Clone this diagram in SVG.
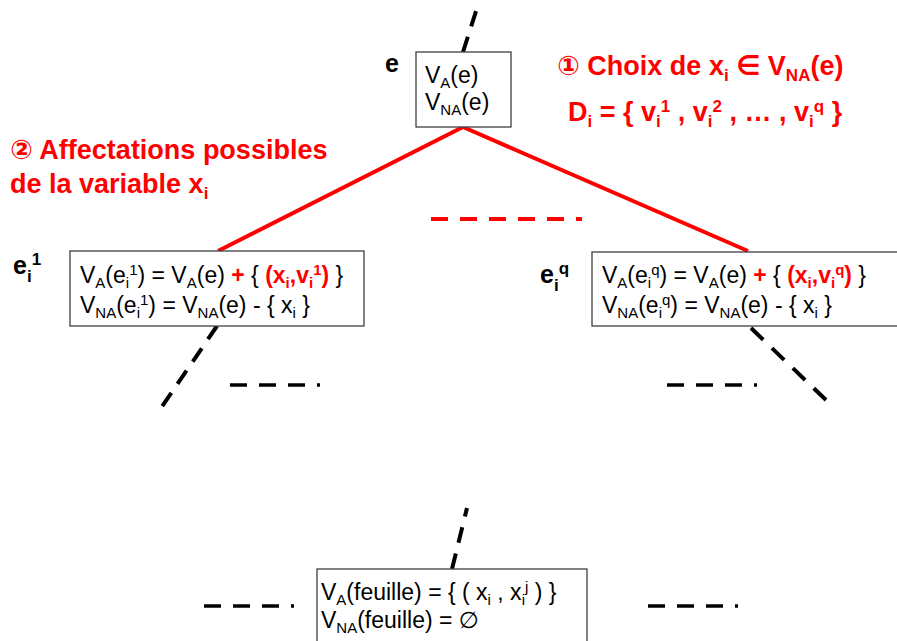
<svg xmlns="http://www.w3.org/2000/svg" width="897" height="641" viewBox="0 0 897 641">
<style>
.box{fill:#fff;stroke:#3f3f3f;stroke-width:1.3}
.t{font-family:"Liberation Sans","DejaVu Sans",sans-serif;font-size:23px;fill:#000}
.lbl{font-family:"Liberation Sans","DejaVu Sans",sans-serif;font-size:25px;font-weight:bold;fill:#000}
.red{font-family:"Liberation Sans","DejaVu Sans",sans-serif;font-size:27px;font-weight:bold;fill:#ff0000}
.rb{fill:#ff0000;font-weight:bold}
.dash{fill:none;stroke:#000;stroke-width:3.5;stroke-dasharray:17 12}
.diag{fill:none;stroke:#000;stroke-width:4;stroke-dasharray:16 11}
.diag2{fill:none;stroke:#000;stroke-width:4;stroke-dasharray:17 12}
.redline{fill:none;stroke:#ff0000;stroke-width:4}
.reddash{fill:none;stroke:#ff0000;stroke-width:4;stroke-dasharray:17 12}
</style>
<g id="connectors">
<path class="diag" d="M463,52 L477,8"/>
<path class="redline" d="M463,127 L218,251"/>
<path class="redline" d="M463,127 L748,251"/>
<path class="reddash" d="M431,219 L582,219"/>
<path class="diag" d="M217,326 L161,408"/>
<path class="dash" d="M230,385 L320,385"/>
<path class="diag2" d="M751,328 L826,400"/>
<path class="dash" d="M667,385 L757,385"/>
<path class="diag" d="M452,569 L467,508"/>
<path class="dash" d="M204,606 L294,606"/>
<path class="dash" d="M648,606 L738,606"/>
</g>
<g id="node-e">
<rect class="box" x="416" y="52" width="95" height="75"/>
<text class="lbl" x="385" y="72">e</text>
<text class="t" x="425" y="83">V<tspan font-size="15" dy="5">A</tspan><tspan dy="-5">(e)</tspan></text>
<text class="t" x="425" y="110">V<tspan font-size="15" dy="5">NA</tspan><tspan dy="-5">(e)</tspan></text>
</g>
<g id="title-1">
<text class="red" x="557" y="75">① Choix de x<tspan font-size="17" dy="6">i</tspan><tspan dy="-6"> ∈ V</tspan><tspan font-size="17" dy="6">NA</tspan><tspan dy="-6">(e)</tspan></text>
<text class="red" x="568" y="121">D<tspan font-size="17" dy="6">i</tspan><tspan dy="-6"> = { v</tspan><tspan font-size="17" dy="6">i</tspan><tspan font-size="17" dy="-15">1</tspan><tspan dy="9"> , v</tspan><tspan font-size="17" dy="6">i</tspan><tspan font-size="17" dy="-15">2</tspan><tspan dy="9"> , … , v</tspan><tspan font-size="17" dy="6">i</tspan><tspan font-size="17" dy="-15">q</tspan><tspan dy="9"> }</tspan></text>
</g>
<g id="title-2">
<text class="red" x="10" y="159">② Affectations possibles</text>
<text class="red" x="10" y="193">de la variable x<tspan font-size="17" dy="6">i</tspan></text>
</g>
<g id="node-ei1">
<rect class="box" x="70" y="251" width="294" height="75"/>
<text class="lbl" x="13" y="274">e<tspan font-size="17" dy="8">i</tspan><tspan font-size="17" dy="-17">1</tspan></text>
<text class="t" x="80" y="283">V<tspan font-size="15" dy="5">A</tspan><tspan dy="-5">(e</tspan><tspan font-size="15" dy="5">i</tspan><tspan font-size="15" dy="-13">1</tspan><tspan dy="8">) = V</tspan><tspan font-size="15" dy="5">A</tspan><tspan dy="-5">(e) </tspan><tspan class="rb">+</tspan> { <tspan class="rb">(x</tspan><tspan class="rb" font-size="15" dy="5">i</tspan><tspan class="rb" dy="-5">,v</tspan><tspan class="rb" font-size="15" dy="5">i</tspan><tspan class="rb" font-size="15" dy="-13">1</tspan><tspan class="rb" dy="8">)</tspan> }</text>
<text class="t" x="80" y="313">V<tspan font-size="15" dy="5">NA</tspan><tspan dy="-5">(e</tspan><tspan font-size="15" dy="5">i</tspan><tspan font-size="15" dy="-13">1</tspan><tspan dy="8">) = V</tspan><tspan font-size="15" dy="5">NA</tspan><tspan dy="-5">(e) - { x</tspan><tspan font-size="15" dy="5">i</tspan><tspan dy="-5"> }</tspan></text>
</g>
<g id="node-eiq">
<rect class="box" x="592" y="252" width="320" height="74"/>
<text class="lbl" x="540" y="283">e<tspan font-size="17" dy="8">i</tspan><tspan font-size="17" dy="-17">q</tspan></text>
<text class="t" x="602" y="283">V<tspan font-size="15" dy="5">A</tspan><tspan dy="-5">(e</tspan><tspan font-size="15" dy="5">i</tspan><tspan font-size="15" dy="-13">q</tspan><tspan dy="8">) = V</tspan><tspan font-size="15" dy="5">A</tspan><tspan dy="-5">(e) </tspan><tspan class="rb">+</tspan> { <tspan class="rb">(x</tspan><tspan class="rb" font-size="15" dy="5">i</tspan><tspan class="rb" dy="-5">,v</tspan><tspan class="rb" font-size="15" dy="5">i</tspan><tspan class="rb" font-size="15" dy="-13">q</tspan><tspan class="rb" dy="8">)</tspan> }</text>
<text class="t" x="602" y="313">V<tspan font-size="15" dy="5">NA</tspan><tspan dy="-5">(e</tspan><tspan font-size="15" dy="5">i</tspan><tspan font-size="15" dy="-13">q</tspan><tspan dy="8">) = V</tspan><tspan font-size="15" dy="5">NA</tspan><tspan dy="-5">(e) - { x</tspan><tspan font-size="15" dy="5">i</tspan><tspan dy="-5"> }</tspan></text>
</g>
<g id="node-feuille">
<rect class="box" x="317" y="569" width="270" height="90"/>
<text class="t" x="321" y="600">V<tspan font-size="15" dy="5">A</tspan><tspan dy="-5">(feuille) = { ( x</tspan><tspan font-size="15" dy="5">i</tspan><tspan dy="-5"> , x</tspan><tspan font-size="15" dy="5">i</tspan><tspan font-size="15" dy="-13">j</tspan><tspan dy="8"> ) }</tspan></text>
<text class="t" x="321" y="628">V<tspan font-size="15" dy="5">NA</tspan><tspan dy="-5">(feuille) = ∅</tspan></text>
</g>
</svg>
